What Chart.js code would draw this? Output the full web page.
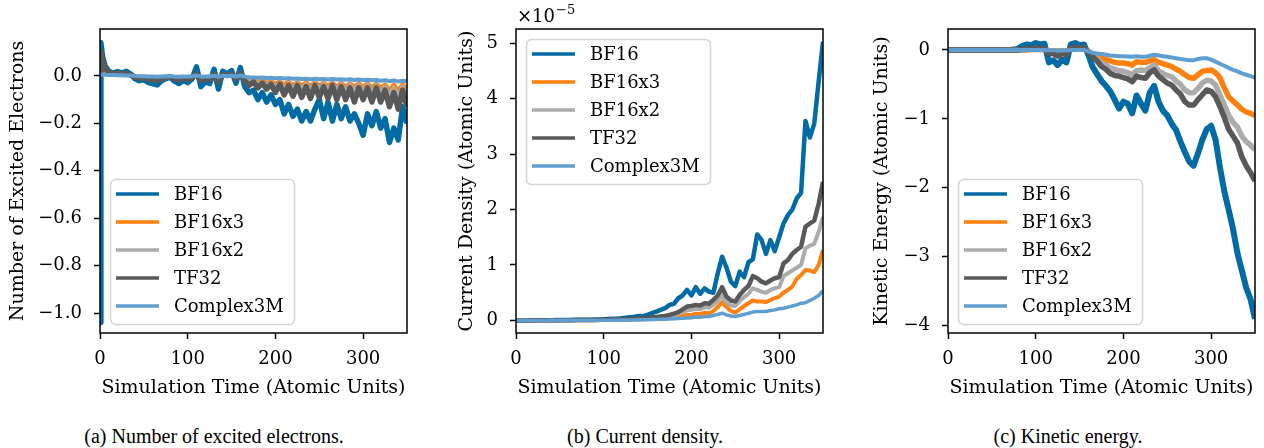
<!DOCTYPE html>
<html>
<head>
<meta charset="utf-8">
<script src="https://cdn.jsdelivr.net/npm/chart.js@4.4.0/dist/chart.umd.min.js"></script>
<style>
  body { margin: 0; background: #fff; width: 1264px; height: 448px; overflow: hidden; position: relative; }
  canvas { position: absolute; top: 0; }
  .cap { position: absolute; top: 425px; font-family: "Liberation Serif", serif; font-size: 20px; color: #000; white-space: nowrap; transform: translateX(-50%); }
</style>
</head>
<body>
<canvas id="excited" width="420" height="410" style="left:0px"></canvas>
<canvas id="current" width="410" height="410" style="left:430px"></canvas>
<canvas id="kinetic" width="414" height="410" style="left:850px"></canvas>
<div class="cap" style="left:214px">(a) Number of excited electrons.</div>
<div class="cap" style="left:645px">(b) Current density.</div>
<div class="cap" style="left:1068px">(c) Kinetic energy.</div>
<script>
// series shared by all three panels
const seriesNames = ['BF16', 'BF16x3', 'BF16x2', 'TF32', 'Complex3M'];
const seriesColors = ['#006BA4', '#FF800E', '#ABABAB', '#595959', '#5F9ED1'];

// time axis (atomic units)
const timeA = [0, 1, 3, 6, 10, 15, 20, 25, 30, 35, 40, 45, 50, 55, 60, 65, 70, 75, 80, 85, 90, 95, 100, 105,
  110, 115, 120, 125, 130, 135, 140, 145, 150, 155, 160, 165, 170, 175, 180, 185, 190, 195, 200, 205, 210,
  215, 220, 225, 230, 235, 240, 245, 250, 255, 260, 265, 270, 275, 280, 285, 290, 295, 300, 305, 310, 315,
  320, 325, 330, 335, 340, 345, 350];
const timeBC = [0, 5, 10, 15, 20, 25, 30, 35, 40, 45, 50, 55, 60, 65, 70, 75, 80, 85, 90, 95, 100, 105, 110,
  115, 120, 125, 130, 135, 140, 145, 150, 155, 160, 165, 170, 175, 180, 185, 190, 195, 200, 205, 210, 215,
  220, 225, 230, 235, 240, 245, 250, 255, 260, 265, 270, 275, 280, 285, 290, 295, 300, 305, 310, 315, 320,
  325, 330, 335, 340, 345, 350];

// (a) number of excited electrons
const excitedBF16 = [-1.04, 0.14, 0.08, 0.04, 0.02,
  0.012, 0.018, 0.012, 0.02, 0.008,
  -0.012, -0.02, -0.015, -0.028, -0.032, -0.038, -0.02, -0.012,
  -0.005, -0.022, -0.032, -0.018, -0.028, -0.012,
  0.038, -0.045, -0.025, -0.032, 0.028, -0.055, 0.02, 0.008, 0.022, -0.03, 0.035,
  -0.045, -0.07, -0.06, -0.1, -0.07, -0.11, -0.08, -0.12, -0.1, -0.16, -0.12, -0.17, -0.14, -0.19, -0.15,
  -0.19, -0.14, -0.1, -0.18, -0.11, -0.19, -0.12, -0.18, -0.13, -0.19, -0.16, -0.2, -0.25, -0.16, -0.21,
  -0.15, -0.22, -0.18, -0.28, -0.22, -0.27, -0.13, -0.2];
const excitedBF16x3 = [0.01, 0.06, 0.04, 0.02, 0.01,
  0.006, 0.006, 0.005, 0.005, 0.003,
  -0.003, -0.006, -0.005, -0.008, -0.01, -0.011, -0.008, -0.005,
  -0.002, -0.006, -0.009, -0.006, -0.008, -0.005,
  0.004, -0.01, -0.006, -0.008, 0.003, -0.012, 0.003, 0.0, 0.004, -0.006, 0.006,
  -0.012, -0.02, -0.016, -0.025, -0.02, -0.028, -0.022, -0.032, -0.024, -0.035, -0.025, -0.038, -0.026,
  -0.04, -0.027, -0.042, -0.026, -0.04, -0.028, -0.042, -0.027, -0.044, -0.028, -0.045, -0.03, -0.045,
  -0.03, -0.046, -0.03, -0.048, -0.032, -0.05, -0.035, -0.06, -0.035, -0.062, -0.034, -0.058];
const excitedBF16x2 = [0.01, 0.08, 0.05, 0.025, 0.012,
  0.008, 0.008, 0.006, 0.006, 0.004,
  -0.004, -0.008, -0.006, -0.01, -0.012, -0.014, -0.01, -0.006,
  -0.003, -0.008, -0.012, -0.008, -0.01, -0.006,
  0.006, -0.014, -0.008, -0.01, 0.005, -0.016, 0.004, 0.0, 0.005, -0.008, 0.008,
  -0.015, -0.03, -0.02, -0.035, -0.025, -0.04, -0.028, -0.05, -0.03, -0.055, -0.032, -0.06, -0.032, -0.06,
  -0.035, -0.065, -0.032, -0.06, -0.034, -0.065, -0.032, -0.065, -0.035, -0.07, -0.036, -0.07, -0.038,
  -0.07, -0.038, -0.075, -0.04, -0.075, -0.045, -0.09, -0.05, -0.095, -0.045, -0.09];
const excitedTF32 = [0.02, 0.1, 0.06, 0.03, 0.015,
  0.01, 0.012, 0.008, 0.01, 0.005,
  -0.005, -0.01, -0.008, -0.014, -0.016, -0.02, -0.012, -0.008,
  -0.004, -0.012, -0.016, -0.01, -0.014, -0.008,
  0.01, -0.02, -0.01, -0.015, 0.008, -0.025, 0.006, 0.002, 0.008, -0.012, 0.012,
  -0.02, -0.04, -0.025, -0.05, -0.03, -0.055, -0.035, -0.07, -0.035, -0.08, -0.04, -0.085, -0.04, -0.09,
  -0.045, -0.095, -0.04, -0.09, -0.045, -0.095, -0.04, -0.1, -0.045, -0.1, -0.05, -0.11, -0.05, -0.1,
  -0.05, -0.11, -0.05, -0.11, -0.06, -0.13, -0.07, -0.14, -0.06, -0.13];
const excitedComplex3M = [0.005, 0.006, 0.006, 0.005, 0.004,
  0.004, 0.003, 0.003, 0.002, 0.002,
  0.0, -0.001, -0.001, -0.002, -0.002, -0.003, -0.002, -0.001,
  0.0, -0.002, -0.003, -0.002, -0.002, -0.001,
  0.002, -0.003, -0.002, -0.002, 0.001, -0.004, 0.001, 0.0, 0.001, -0.002, 0.002,
  -0.003, -0.005, -0.006, -0.008, -0.007, -0.009, -0.008, -0.01, -0.009, -0.011, -0.01, -0.012, -0.011,
  -0.013, -0.012, -0.014, -0.012, -0.014, -0.013, -0.015, -0.013, -0.015, -0.014, -0.016, -0.014, -0.017,
  -0.015, -0.017, -0.016, -0.018, -0.017, -0.02, -0.018, -0.022, -0.019, -0.023, -0.02, -0.022];

// (b) current density, in units of 1e-5
const currentBF16 = [0, 0, 0, 0.001, 0.002, 0.002, 0.003, 0.004, 0.005, 0.006, 0.007, 0.008, 0.009, 0.01, 0.011, 0.012,
  0.013, 0.014, 0.016, 0.018, 0.02, 0.024, 0.028, 0.032,
  0.04, 0.05, 0.055, 0.065, 0.08, 0.075, 0.1, 0.13,
  0.16, 0.19, 0.22, 0.28, 0.3, 0.4, 0.45, 0.55,
  0.45, 0.6, 0.48, 0.58, 0.52, 0.5, 0.85, 1.15,
  0.95, 0.7, 0.62, 0.88, 0.78, 1.05, 1.1, 1.55,
  1.45, 1.2, 1.45, 1.25, 1.5, 1.75, 1.9, 2.0,
  2.2, 2.3, 3.6, 3.3, 3.55, 4.3, 5.03];
const currentBF16x3 = [0, 0, 0, 0, 0, 0, 0.001, 0.001, 0.001, 0.001, 0.002, 0.002, 0.002, 0.002, 0.003, 0.003,
  0.003, 0.004, 0.004, 0.005, 0.006, 0.007, 0.008, 0.009,
  0.01, 0.012, 0.014, 0.016, 0.018, 0.02, 0.024, 0.028,
  0.032, 0.036, 0.04, 0.05, 0.06, 0.07, 0.085, 0.1,
  0.1, 0.12, 0.11, 0.14, 0.13, 0.17, 0.24, 0.33,
  0.24, 0.17, 0.14, 0.2, 0.26, 0.31, 0.36, 0.34,
  0.34, 0.33, 0.37, 0.4, 0.43, 0.5, 0.55, 0.61,
  0.75, 0.82, 0.91, 0.9, 0.87, 1.0, 1.27];
const currentBF16x2 = [0, 0, 0, 0, 0, 0.001, 0.001, 0.001, 0.002, 0.002, 0.002, 0.003, 0.003, 0.003, 0.004, 0.004,
  0.005, 0.005, 0.006, 0.007, 0.008, 0.009, 0.01, 0.012,
  0.014, 0.016, 0.018, 0.02, 0.025, 0.028, 0.032, 0.038,
  0.045, 0.05, 0.06, 0.07, 0.09, 0.12, 0.15, 0.18,
  0.19, 0.21, 0.2, 0.24, 0.23, 0.28, 0.35, 0.45,
  0.32, 0.27, 0.26, 0.35, 0.42, 0.48, 0.58, 0.55,
  0.52, 0.5, 0.55, 0.58, 0.6, 0.8, 0.85, 0.9,
  0.95, 1.0, 1.3, 1.35, 1.38, 1.6, 1.87];
const currentTF32 = [0, 0, 0, 0, 0.001, 0.001, 0.002, 0.002, 0.003, 0.003, 0.004, 0.004, 0.005, 0.005, 0.006, 0.006,
  0.007, 0.008, 0.009, 0.01, 0.011, 0.012, 0.014, 0.016,
  0.02, 0.022, 0.025, 0.03, 0.035, 0.04, 0.045, 0.055,
  0.06, 0.07, 0.08, 0.1, 0.12, 0.15, 0.2, 0.25,
  0.26, 0.28, 0.27, 0.31, 0.3, 0.37, 0.45, 0.6,
  0.43, 0.36, 0.34, 0.46, 0.55, 0.62, 0.8, 0.76,
  0.7, 0.67, 0.72, 0.76, 0.78, 1.03, 1.09, 1.2,
  1.27, 1.33, 1.69, 1.75, 1.8, 2.1, 2.5];
const currentComplex3M = [0, 0, 0, 0, 0, 0, 0, 0, 0.001, 0.001, 0.001, 0.001, 0.001, 0.001, 0.002, 0.002,
  0.002, 0.002, 0.003, 0.003, 0.003, 0.004, 0.004, 0.005,
  0.006, 0.007, 0.008, 0.009, 0.01, 0.012, 0.014, 0.016,
  0.018, 0.02, 0.022, 0.025, 0.03, 0.035, 0.04, 0.045,
  0.05, 0.06, 0.055, 0.07, 0.07, 0.09, 0.11, 0.13,
  0.1, 0.08, 0.07, 0.09, 0.11, 0.13, 0.15, 0.16,
  0.16, 0.16, 0.18, 0.19, 0.21, 0.22, 0.24, 0.26,
  0.28, 0.31, 0.32, 0.36, 0.4, 0.45, 0.53];

// (c) kinetic energy
const kineticBF16 = [0, 0, 0, 0, 0, 0, 0, 0, 0, 0, 0, 0, 0, 0, 0, 0.005,
  0.02, 0.06, 0.08, 0.07, 0.1, 0.08, 0.09, -0.18,
  -0.15, -0.22, -0.14, -0.18, 0.08, 0.1, 0.07, 0.08,
  -0.07, -0.25, -0.35, -0.45, -0.52, -0.6, -0.72, -0.85,
  -0.75, -0.78, -0.92, -0.66, -0.78, -0.88, -0.62, -0.52,
  -0.75, -0.88, -0.95, -1.07, -1.16, -1.33, -1.48, -1.62,
  -1.68, -1.5, -1.3, -1.15, -1.1, -1.3, -1.7, -2.05,
  -2.32, -2.6, -2.95, -3.2, -3.45, -3.62, -3.9];
const kineticBF16x3 = [0, 0, 0, 0, 0, 0, 0, 0, 0, 0, 0, 0, 0, 0, 0, 0,
  0, 0, 0, 0.005, 0.005, 0.005, 0.005, -0.01,
  -0.01, -0.015, -0.01, -0.015, 0.005, 0.01, 0.01, 0.01,
  -0.02, -0.06, -0.1, -0.12, -0.14, -0.16, -0.18, -0.19,
  -0.19, -0.2, -0.22, -0.17, -0.18, -0.18, -0.16, -0.14,
  -0.18, -0.2, -0.22, -0.24, -0.28, -0.31, -0.36, -0.4,
  -0.41, -0.36, -0.31, -0.3, -0.29, -0.33, -0.4, -0.55,
  -0.68, -0.74, -0.8, -0.86, -0.9, -0.92, -0.95];
const kineticBF16x2 = [0, 0, 0, 0, 0, 0, 0, 0, 0, 0, 0, 0, 0, 0, 0, 0,
  0, 0, 0.01, 0.01, 0.01, 0.01, 0.01, -0.02,
  -0.02, -0.03, -0.02, -0.03, 0.01, 0.02, 0.02, 0.02,
  -0.02, -0.08, -0.13, -0.19, -0.22, -0.26, -0.28, -0.3,
  -0.31, -0.33, -0.36, -0.3, -0.29, -0.3, -0.26, -0.22,
  -0.3, -0.34, -0.37, -0.39, -0.45, -0.5, -0.58, -0.62,
  -0.62, -0.56, -0.48, -0.44, -0.45, -0.51, -0.65, -0.8,
  -0.95, -1.05, -1.12, -1.25, -1.33, -1.38, -1.45];
const kineticTF32 = [0, 0, 0, 0, 0, 0, 0, 0, 0, 0, 0, 0, 0, 0, 0, 0,
  0, 0.01, 0.02, 0.02, 0.03, 0.02, 0.02, -0.06,
  -0.05, -0.09, -0.05, -0.07, 0.03, 0.04, 0.03, 0.03,
  -0.03, -0.1, -0.16, -0.24, -0.28, -0.34, -0.37, -0.38,
  -0.4, -0.42, -0.46, -0.38, -0.4, -0.41, -0.33, -0.29,
  -0.38, -0.43, -0.48, -0.51, -0.58, -0.64, -0.75, -0.8,
  -0.8, -0.72, -0.65, -0.58, -0.6, -0.68, -0.82, -0.98,
  -1.15, -1.25, -1.35, -1.55, -1.68, -1.78, -1.9];
const kineticComplex3M = [0, 0, 0, 0, 0, 0, 0, 0, 0, 0, 0, 0, 0, 0, 0, 0,
  0, 0, 0, 0, 0, 0, 0, -0.005,
  -0.005, -0.008, -0.006, -0.008, 0, 0, 0, 0,
  -0.02, -0.04, -0.05, -0.06, -0.07, -0.08, -0.085, -0.09,
  -0.09, -0.095, -0.1, -0.09, -0.1, -0.1, -0.085, -0.07,
  -0.08, -0.09, -0.1, -0.11, -0.12, -0.13, -0.14, -0.15,
  -0.15, -0.13, -0.12, -0.12, -0.14, -0.17, -0.2, -0.23,
  -0.26, -0.29, -0.31, -0.34, -0.36, -0.38, -0.4];

// tick labels
const timeTicks = [0, 100, 200, 300];
const excitedTicks = [-1.0, -0.8, -0.6, -0.4, -0.2, 0.0];
const currentTicks = [0, 1, 2, 3, 4, 5];
const kineticTicks = [-4, -3, -2, -1, 0];

const FONT = '"DejaVu Serif", serif';
Chart.defaults.font.family = FONT;
Chart.defaults.font.size = 18;
Chart.defaults.color = '#000';

const minus = (s) => s.replace('-', '\u2212');

// axes box drawn on top of the lines, like matplotlib spines
const frame = {
  id: 'frame',
  afterDatasetsDraw(chart) {
    const { ctx, chartArea: a } = chart;
    ctx.save();
    ctx.strokeStyle = '#000';
    ctx.lineWidth = 1.5;
    ctx.strokeRect(a.left, a.top, a.right - a.left, a.bottom - a.top);
    ctx.restore();
  },
};

// legend box inside the axes
const legendBox = {
  id: 'legendBox',
  afterDraw(chart, args, opts) {
    const { ctx, chartArea: a } = chart;
    const w = 184, h = 145;
    const x = a.left + 10;
    const y = opts.corner === 'upper left' ? a.top + 10 : a.bottom - 9 - h;
    ctx.save();
    ctx.beginPath();
    ctx.roundRect(x + 0.5, y + 0.5, w, h, 5);
    ctx.fillStyle = 'rgba(255,255,255,0.8)';
    ctx.fill();
    ctx.strokeStyle = '#d4d4d4';
    ctx.lineWidth = 1.5;
    ctx.stroke();
    chart.data.datasets.forEach((ds, i) => {
      const ry = y + 15 + 28 * i;
      ctx.beginPath();
      ctx.moveTo(x + 6, ry);
      ctx.lineTo(x + 49, ry);
      ctx.strokeStyle = ds.borderColor;
      ctx.lineWidth = 3.5;
      ctx.stroke();
      ctx.fillStyle = '#000';
      ctx.font = '18px ' + FONT;
      ctx.textBaseline = 'middle';
      ctx.fillText(ds.label, x + 64, ry + 1);
    });
    ctx.restore();
  },
};

// "x10^-5" offset text of panel (b)
const offsetText = {
  id: 'offsetText',
  afterDraw(chart, args, opts) {
    if (!opts.text) return;
    const { ctx, chartArea: a } = chart;
    ctx.save();
    ctx.fillStyle = '#000';
    ctx.textBaseline = 'alphabetic';
    ctx.font = '18px ' + FONT;
    ctx.fillText(opts.text, a.left + 1, 22);
    const w = ctx.measureText(opts.text).width;
    ctx.font = '13px ' + FONT;
    ctx.fillText(opts.sup, a.left + 2 + w, 14);
    ctx.restore();
  },
};

function buildPanel(id, times, seriesList, cfg) {
  const datasets = seriesList.map((vals, i) => ({
    label: seriesNames[i],
    data: vals.map((v, j) => ({ x: times[j], y: v })),
    borderColor: seriesColors[i],
    backgroundColor: seriesColors[i],
    borderWidth: cfg.lineWidths[i],
    borderJoinStyle: 'round',
    pointRadius: 0,
    tension: 0,
    order: seriesList.length - i,
  }));

  const tickGrid = { drawOnChartArea: false, drawTicks: true, tickLength: 6, tickWidth: 1.5, tickColor: '#000', color: '#000' };

  return new Chart(document.getElementById(id), {
    type: 'line',
    data: { datasets },
    plugins: [frame, legendBox, offsetText],
    options: {
      responsive: false,
      animation: false,
      devicePixelRatio: 1,
      layout: { padding: { top: 29, right: cfg.padRight, left: 0, bottom: 0 } },
      plugins: {
        legend: { display: false },
        tooltip: { enabled: false },
        legendBox: { corner: cfg.legendCorner },
        offsetText: cfg.offset || {},
      },
      scales: {
        x: {
          type: 'linear',
          min: 0,
          max: 350,
          afterBuildTicks: (s) => { s.ticks = timeTicks.map((v) => ({ value: v })); },
          afterFit: (s) => { s.height = 77; },
          ticks: { padding: 10, maxRotation: 0, autoSkip: false, callback: (v) => String(v) },
          grid: tickGrid,
          border: { display: false },
          title: { display: true, text: 'Simulation Time (Atomic Units)', font: { size: 19 }, padding: { top: 0, bottom: 10.6 } },
        },
        y: {
          type: 'linear',
          min: cfg.yMin,
          max: cfg.yMax,
          afterBuildTicks: (s) => { s.ticks = cfg.yTicks.map((v) => ({ value: v })); },
          afterFit: (s) => { s.width = cfg.yWidth; },
          ticks: { padding: 12, autoSkip: false, callback: (v) => minus(v.toFixed(cfg.decimals)) },
          grid: tickGrid,
          border: { display: false },
          title: { display: true, text: cfg.yTitle, font: { size: 19 }, padding: { top: cfg.yTitlePad, bottom: 0 } },
        },
      },
    },
  });
}

buildPanel('excited', timeA,
  [excitedBF16, excitedBF16x3, excitedBF16x2, excitedTF32, excitedComplex3M],
  { yMin: -1.084, yMax: 0.198, yTicks: excitedTicks, decimals: 1, yWidth: 100, padRight: 13,
    lineWidths: [5.5, 4, 4.5, 5.5, 4],
    yTitle: 'Number of Excited Electrons', yTitlePad: 7.1, legendCorner: 'lower left' });

buildPanel('current', timeBC,
  [currentBF16, currentBF16x3, currentBF16x2, currentTF32, currentComplex3M],
  { yMin: -0.227, yMax: 5.258, yTicks: currentTicks, decimals: 0, yWidth: 86, padRight: 17,
    lineWidths: [4.5, 4, 4, 4.5, 3.5],
    yTitle: 'Current Density (Atomic Units)', yTitlePad: 25.3, legendCorner: 'upper left',
    offset: { text: '\u00d710', sup: '\u22125' } });

buildPanel('kinetic', timeBC,
  [kineticBF16, kineticBF16x3, kineticBF16x2, kineticTF32, kineticComplex3M],
  { yMin: -4.106, yMax: 0.304, yTicks: kineticTicks, decimals: 0, yWidth: 98, padRight: 9,
    lineWidths: [6, 5.5, 5.5, 5.5, 4],
    yTitle: 'Kinetic Energy (Atomic Units)', yTitlePad: 20.3, legendCorner: 'lower left' });
</script>
</body>
</html>
